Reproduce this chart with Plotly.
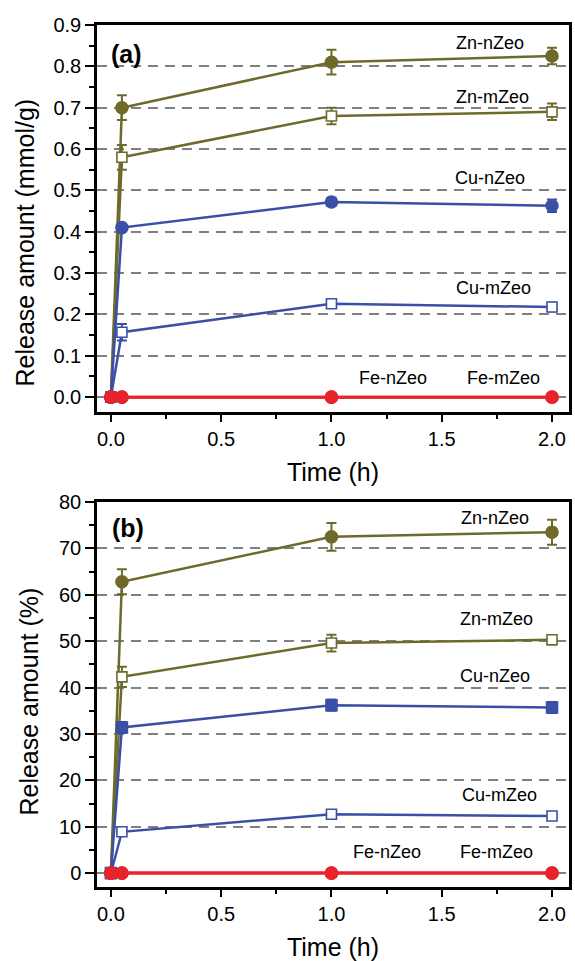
import plotly.graph_objects as go

# ---------------- data ----------------
time_h = [0.0, 0.05, 1.0, 2.0]

# panel (a): release amount (mmol/g)
a_zn_n = [0.0, 0.70, 0.81, 0.825]
a_zn_n_err = [0.0, 0.03, 0.03, 0.02]
a_zn_m = [0.0, 0.58, 0.68, 0.69]
a_zn_m_err = [0.0, 0.03, 0.02, 0.02]
a_cu_n = [0.0, 0.41, 0.472, 0.463]
a_cu_n_err = [0.0, 0.008, 0.01, 0.015]
a_cu_m = [0.0, 0.157, 0.226, 0.218]
a_cu_m_err = [0.0, 0.02, 0.01, 0.01]
a_fe_n = [0.0, 0.0, 0.0, 0.0]
a_fe_m = [0.0, 0.0, 0.0, 0.0]
a_fe_err = [0.004, 0.004, 0.004, 0.004]

# panel (b): release amount (%)
b_zn_n = [0.0, 62.8, 72.5, 73.5]
b_zn_n_err = [0.0, 2.7, 3.0, 2.7]
b_zn_m = [0.0, 42.3, 49.6, 50.3]
b_zn_m_err = [0.0, 2.2, 1.8, 1.0]
b_cu_n = [0.0, 31.4, 36.2, 35.7]
b_cu_n_err = [0.0, 1.2, 1.2, 1.2]
b_cu_m = [0.0, 8.9, 12.7, 12.3]
b_cu_m_err = [0.0, 0.8, 0.8, 0.8]
b_fe_n = [0.0, 0.0, 0.0, 0.0]
b_fe_m = [0.0, 0.0, 0.0, 0.0]
b_fe_err = [0.4, 0.4, 0.4, 0.4]

# labels
a_labels = ["Zn-nZeo", "Zn-mZeo", "Cu-nZeo", "Cu-mZeo", "Fe-nZeo", "Fe-mZeo"]
a_label_x = [1.72, 1.73, 1.72, 1.734, 1.28, 1.78]
a_label_y = [0.857, 0.726, 0.530, 0.264, 0.046, 0.046]
b_labels = ["Zn-nZeo", "Zn-mZeo", "Cu-nZeo", "Cu-mZeo", "Fe-nZeo", "Fe-mZeo"]
b_label_x = [1.74, 1.75, 1.74, 1.76, 1.25, 1.75]
b_label_y = [76.5, 54.8, 42.5, 16.8, 4.5, 4.5]

OLIVE = "#6e6a2a"
BLUE = "#3b4fa6"
RED = "#e8232b"
FONT = "Liberation Sans, Arial, sans-serif"

fig = go.Figure()


def add_series(xa, ya, y, err, color, symbol, filled, size, lw=2.5):
    fig.add_trace(go.Scatter(
        x=time_h, y=y, xaxis=xa, yaxis=ya, mode="lines+markers",
        line=dict(color=color, width=lw),
        marker=dict(symbol=symbol, size=size,
                    color=color if filled else "white",
                    line=dict(color=color, width=1.6)),
        error_y=dict(type="data", array=err, visible=True,
                     color=color, thickness=2, width=5),
        showlegend=False, cliponaxis=False,
    ))


# panel (a)
add_series("x", "y", a_zn_n, a_zn_n_err, OLIVE, "circle", True, 12)
add_series("x", "y", a_zn_m, a_zn_m_err, OLIVE, "square", False, 10)
add_series("x", "y", a_cu_n, a_cu_n_err, BLUE, "circle", True, 12)
add_series("x", "y", a_cu_m, a_cu_m_err, BLUE, "square", False, 10)
add_series("x", "y", a_fe_m, a_fe_err, RED, "circle", True, 12, 3)
add_series("x", "y", a_fe_n, a_fe_err, RED, "circle", True, 12, 3)

# panel (b)
add_series("x2", "y2", b_zn_n, b_zn_n_err, OLIVE, "circle", True, 12)
add_series("x2", "y2", b_zn_m, b_zn_m_err, OLIVE, "square", False, 10)
add_series("x2", "y2", b_cu_n, b_cu_n_err, BLUE, "square", True, 11)
add_series("x2", "y2", b_cu_m, b_cu_m_err, BLUE, "square", False, 10)
add_series("x2", "y2", b_fe_m, b_fe_err, RED, "circle", True, 12, 3)
add_series("x2", "y2", b_fe_n, b_fe_err, RED, "circle", True, 12, 3)

annotations = []
for t, x, y in zip(a_labels, a_label_x, a_label_y):
    annotations.append(dict(text=t, x=x, y=y, xref="x", yref="y", showarrow=False,
                            font=dict(size=18, color="black", family=FONT)))
for t, x, y in zip(b_labels, b_label_x, b_label_y):
    annotations.append(dict(text=t, x=x, y=y, xref="x2", yref="y2", showarrow=False,
                            font=dict(size=18, color="black", family=FONT)))
annotations.append(dict(text="<b>(a)</b>", x=0.072, y=0.83, xref="x", yref="y",
                        showarrow=False, font=dict(size=25, color="black", family=FONT)))
annotations.append(dict(text="<b>(b)</b>", x=0.077, y=74.4, xref="x2", yref="y2",
                        showarrow=False, font=dict(size=25, color="black", family=FONT)))
annotations.append(dict(text="Release amount (mmol/g)", x=-0.152, y=0.748,
                        xref="paper", yref="paper", textangle=-90, showarrow=False,
                        xanchor="center", yanchor="middle",
                        font=dict(size=25, color="black", family=FONT)))
annotations.append(dict(text="Release amount (%)", x=-0.145, y=0.2146,
                        xref="paper", yref="paper", textangle=-90, showarrow=False,
                        xanchor="center", yanchor="middle",
                        font=dict(size=25, color="black", family=FONT)))

axis_common = dict(
    showline=True, linecolor="black", linewidth=2.5, mirror=True,
    ticks="outside", tickwidth=2, tickcolor="black",
    tickfont=dict(size=20, color="black", family=FONT),
    zeroline=False,
)

xax = dict(axis_common, range=[-0.063, 2.077], tick0=0, dtick=0.5, tickformat=".1f",
           showgrid=False, ticklen=7,
           minor=dict(dtick=0.25, ticklen=4, tickwidth=2, tickcolor="black", ticks="outside"),
           title=dict(text="Time (h)", font=dict(size=25, color="black", family=FONT), standoff=15))

fig.update_layout(
    width=575, height=961,
    margin=dict(l=97, r=3, t=25, b=74),
    paper_bgcolor="white", plot_bgcolor="white",
    font=dict(family=FONT, color="black"),
    showlegend=False,
    xaxis=dict(xax, anchor="y"),
    xaxis2=dict(xax, anchor="y2"),
    yaxis=dict(axis_common, domain=[0.551, 1.0], range=[-0.036, 0.9], tick0=0, dtick=0.1,
               tickformat=".1f", showgrid=True, gridcolor="#808080", gridwidth=1.5,
               griddash="10px,7px", ticklen=9,
               minor=dict(dtick=0.05, ticklen=5, tickwidth=2, tickcolor="black", ticks="outside"),
               anchor="x"),
    yaxis2=dict(axis_common, domain=[0.0, 0.4466], range=[-3.0, 80], tick0=0, dtick=10,
                showgrid=True, gridcolor="#808080", gridwidth=1.5, griddash="10px,7px",
                ticklen=9,
                minor=dict(dtick=5, ticklen=5, tickwidth=2, tickcolor="black", ticks="outside"),
                anchor="x2"),
    annotations=annotations,
)

fig.write_html("out.html", config={"displayModeBar": False},
               post_script="document.body.style.margin='0';document.body.style.overflow='hidden';")
